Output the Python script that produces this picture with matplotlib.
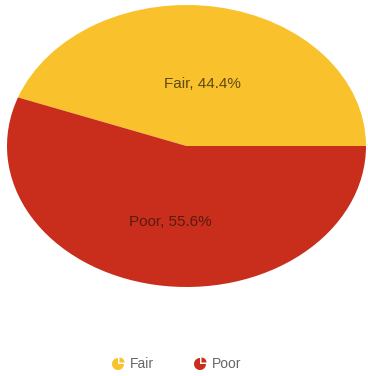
import matplotlib
matplotlib.use("Agg")
import matplotlib.pyplot as plt
from matplotlib.patches import Wedge

# Data
categories = ["Fair", "Poor"]
shares = [44.4, 55.6]
colors = ["#F9C22C", "#C82E1B"]
label_colors = ["#5E4A14", "#5A1A10"]

W, H = 368, 376
plt.rcParams['font.family'] = ['Liberation Sans', 'DejaVu Sans']

fig = plt.figure(figsize=(W / 100, H / 100), dpi=100)

# Pie axes, stretched into an ellipse
left, right, top, bottom = 7, 366, 5, 287
ax = fig.add_axes([left / W, 1 - bottom / H, (right - left) / W, (bottom - top) / H])
wedges, texts = ax.pie(shares, colors=colors, startangle=0, counterclock=True,
                       labels=[f"{c}, {s}%" for c, s in zip(categories, shares)],
                       labeldistance=0.5, textprops={'fontsize': 11},
                       wedgeprops={'linewidth': 0})
for t, c in zip(texts, label_colors):
    t.set_color(c)
    t.set_ha('center')
    t.set_va('center')
    tx, ty = t.get_position()
    t.set_position((tx, ty - 0.05))
ax.set_aspect('auto')
ax.set_xlim(-1, 1)
ax.set_ylim(-1, 1)
ax.axis('off')

# Legend drawn in pixel coordinates (y grows downward)
lax = fig.add_axes([0, 0, 1, 1])
lax.set_xlim(0, W)
lax.set_ylim(H, 0)
lax.axis('off')
legend_x = [118, 200]
legend_y = 364
for x, name, col in zip(legend_x, categories, colors):
    lax.add_patch(Wedge((x, legend_y), 6, 0, 270, facecolor=col, lw=0))
    lax.add_patch(Wedge((x + 1.5, legend_y - 1.5), 5, 270, 360, facecolor=col, lw=0))
    lax.text(x + 12, legend_y, name, fontsize=10, color="#666666",
             ha='left', va='center')

fig.savefig("out.png", dpi=100)
